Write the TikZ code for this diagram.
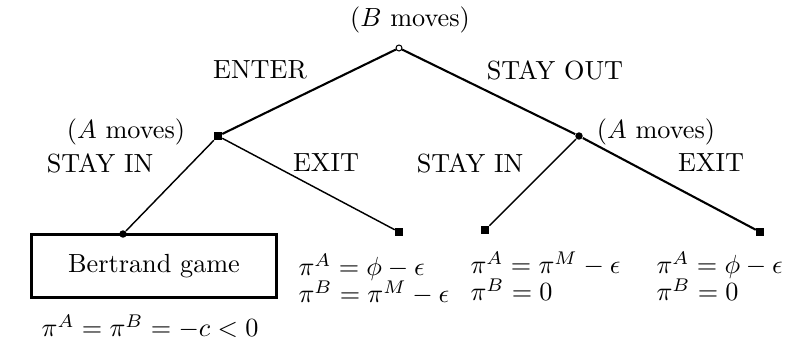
\documentclass[tikz,border=0pt]{standalone}
\begin{document}
\begin{tikzpicture}[x=0.0134cm, y=-0.0134cm,
  lbl/.style={inner sep=1pt},
  pay/.style={align=left, inner sep=0pt, anchor=north west},
  opennd/.style={circle, draw, fill=white, inner sep=0pt, minimum size=0.08cm},
  sqnd/.style={rectangle, fill=black, inner sep=0pt, minimum size=0.1cm},
  dotnd/.style={circle, fill=black, inner sep=0pt, minimum size=0.1cm},
  br/.style={line width=0.8pt},
  twig/.style={line width=0.55pt}
]
  \useasboundingbox (0,0) rectangle (802,341);
  % decision nodes
  \node[opennd] (root) at (399,48) {};
  \node[sqnd] (Aleft) at (218,136) {};
  \node[dotnd] (Aright) at (579,136) {};
  % terminal nodes
  \node[draw, line width=0.9pt, minimum width=3.28cm, minimum height=0.84cm] (bert) at (154,266) {Bertrand game};
  \node[dotnd] (t1) at (123,234) {};
  \node[sqnd] (t2) at (399,232) {};
  \node[sqnd] (t3) at (485,230) {};
  \node[sqnd] (t4) at (760,232) {};

  % labels
  \node[lbl] (Bmv) at (410,20) {($B$ moves)};
  \node[lbl] (Amvl) at (126,132) {($A$ moves)};
  \node[lbl] (Amvr) at (656,132) {($A$ moves)};
  \node[lbl] (enter) at (260,70) {ENTER};
  \node[lbl] (out) at (555,70) {STAY OUT};
  \node[lbl] (inl) at (100,163) {STAY IN};
  \node[lbl] (exl) at (326,163) {EXIT};
  \node[lbl] (inr) at (470,163) {STAY IN};
  \node[lbl] (exr) at (711,163) {EXIT};

  % payoffs
  \node[lbl] (p1) at (150,327) {$\pi^A=\pi^B=-c<0$};
  \node[pay] (p2) at (298,253) {$\pi^A=\phi-\epsilon$\\[-1.6pt]$\pi^B=\pi^M-\epsilon$};
  \node[pay] (p3) at (470,251) {$\pi^A=\pi^M-\epsilon$\\[-1.6pt]$\pi^B=0$};
  \node[pay] (p4) at (656,251) {$\pi^A=\phi-\epsilon$\\[-1.6pt]$\pi^B=0$};

  \draw[br] (root) -- (Aleft);
  \draw[br] (root) -- (Aright);
  \draw[twig] (Aleft) -- (t1);
  \draw[twig] (Aleft) -- (t2);
  \draw[twig] (Aright) -- (t3);
  \draw[br] (Aright) -- (t4);
\end{tikzpicture}
\end{document}
